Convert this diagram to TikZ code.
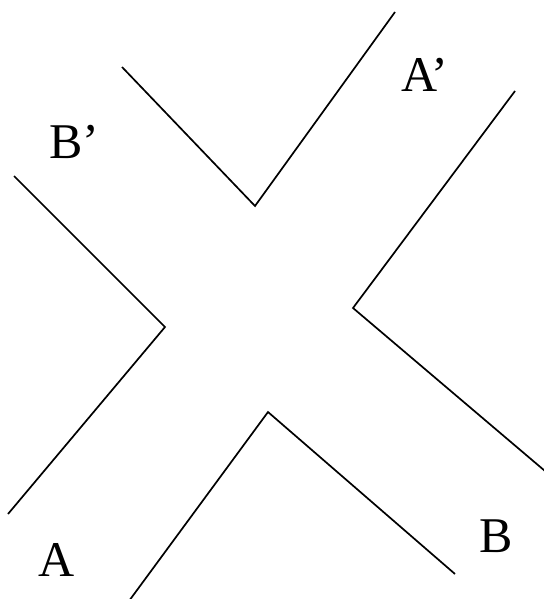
\documentclass[tikz,border=0pt]{standalone}
\usepackage{fontspec}
\setmainfont{Liberation Serif}
\begin{document}
\begin{tikzpicture}[x=1pt,y=-1pt,
  wall/.style={draw=black,line width=1.7pt,line join=miter},
  lbl/.style={inner sep=0pt,anchor=base west,font=\fontsize{50}{60}\selectfont}]
\useasboundingbox (0,0) rectangle (543,599);
% top wall
\coordinate (t1) at (122,67); \coordinate (t2) at (255,206); \coordinate (t3) at (395,12);
\draw[wall] (t1) -- (t2) -- (t3);
% right wall
\coordinate (r1) at (515,91); \coordinate (r2) at (353,308); \coordinate (r3) at (545,471);
\draw[wall] (r1) -- (r2) -- (r3);
% bottom wall
\coordinate (b1) at (129,601); \coordinate (b2) at (268,412); \coordinate (b3) at (455,574);
\draw[wall] (b1) -- (b2) -- (b3);
% left wall
\coordinate (l1) at (14,176); \coordinate (l2) at (165,327); \coordinate (l3) at (8,514);
\draw[wall] (l1) -- (l2) -- (l3);
% labels
\node[lbl] (Ap) at (401,92) {A’};
\node[lbl] (Bp) at (49,158) {B’};
\node[lbl] (A) at (38,576) {A};
\node[lbl] (B) at (479,552) {B};
\end{tikzpicture}
\end{document}
